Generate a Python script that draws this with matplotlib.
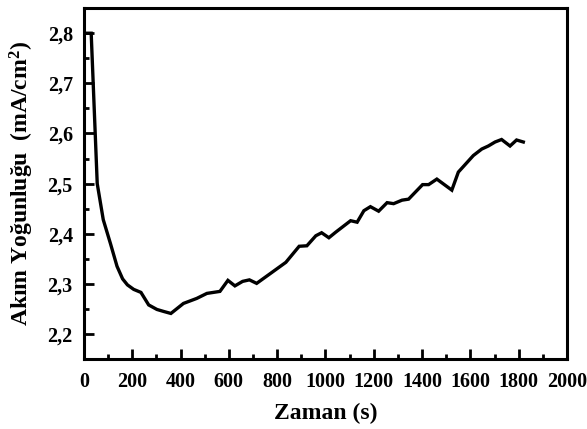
import matplotlib
matplotlib.use("Agg")
import matplotlib.pyplot as plt
from matplotlib.ticker import MultipleLocator, FuncFormatter

time_s = [5, 30, 55, 80, 110, 137, 160, 180, 206, 236, 268, 302, 330, 360,
          412, 467, 509, 563, 596, 625, 657, 685, 715, 767, 836, 891, 923,
          960, 984, 1014, 1042, 1104, 1131, 1159, 1186, 1220, 1255, 1282,
          1317, 1344, 1402, 1427, 1461, 1523, 1550, 1612, 1647, 1674, 1702,
          1729, 1764, 1791, 1819]
current = [2.800, 2.800, 2.500, 2.428, 2.380, 2.335, 2.310, 2.298, 2.289,
           2.283, 2.258, 2.249, 2.245, 2.241, 2.261, 2.271, 2.281, 2.285,
           2.307, 2.296, 2.305, 2.308, 2.301, 2.319, 2.343, 2.375, 2.376,
           2.396, 2.402, 2.392, 2.403, 2.426, 2.423, 2.446, 2.454, 2.445,
           2.462, 2.460, 2.467, 2.469, 2.498, 2.498, 2.509, 2.487, 2.523,
           2.556, 2.569, 2.575, 2.583, 2.588, 2.575, 2.587, 2.583]

plt.rcParams['font.family'] = ['Liberation Serif', 'DejaVu Serif']
plt.rcParams['font.weight'] = 'bold'
plt.rcParams['mathtext.fontset'] = 'custom'
plt.rcParams['mathtext.rm'] = 'Liberation Serif:bold'
plt.rcParams['mathtext.default'] = 'rm'

fig = plt.figure(figsize=(5.87, 4.29), dpi=100)
ax = fig.add_axes([0.143, 0.163, 0.823, 0.818])

ax.plot(time_s, current, color='black', lw=2.4, solid_joinstyle='miter')

ax.set_xlim(0, 2000)
ax.set_ylim(2.15, 2.85)
ax.xaxis.set_major_locator(MultipleLocator(200))
ax.xaxis.set_minor_locator(MultipleLocator(100))
ax.yaxis.set_minor_locator(MultipleLocator(0.05))
ax.set_yticks([2.2, 2.3, 2.4, 2.5, 2.6, 2.7, 2.8])
ax.yaxis.set_major_formatter(FuncFormatter(lambda v, p: f"{v:.1f}".replace('.', ',')))

for s in ax.spines.values():
    s.set_linewidth(2.2)
ax.tick_params(which='both', direction='in', width=2, labelsize=14.5)
ax.tick_params(which='major', length=7)
ax.tick_params(axis='y', which='major', pad=8)
ax.tick_params(axis='x', which='major', pad=9)
ax.tick_params(which='minor', length=3.5)
ax.tick_params(axis='y', which='both', right=False)
ax.tick_params(axis='x', which='both', top=False)
for lab in ax.get_xticklabels() + ax.get_yticklabels():
    lab.set_fontweight('bold')

ax.set_xlabel('Zaman (s)', fontsize=17, fontweight='bold', labelpad=8)
ax.set_ylabel('Akım Yoğunluğu  (mA/cm$^2$)', fontsize=17, fontweight='bold', labelpad=8)

fig.savefig('out.png', dpi=100)
